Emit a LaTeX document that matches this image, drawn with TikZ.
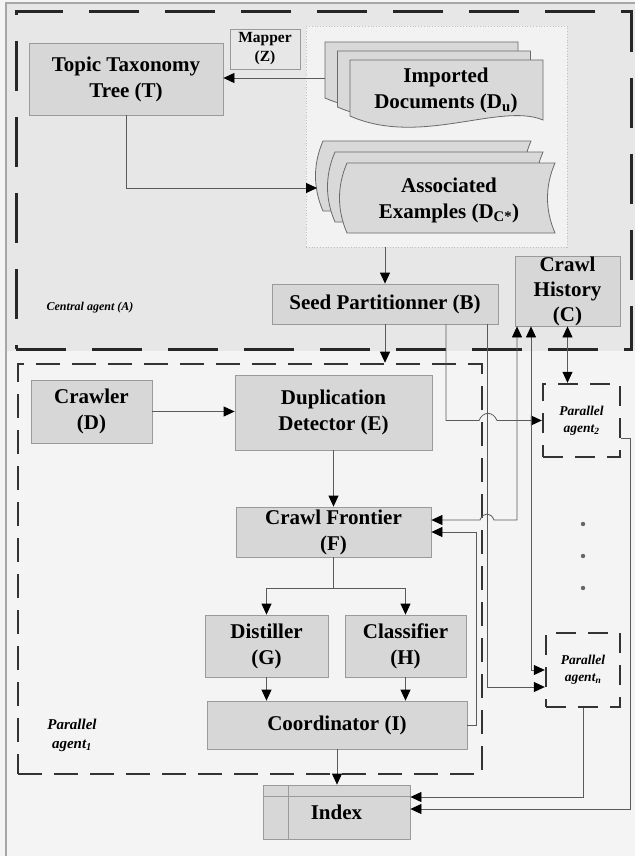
\documentclass[tikz,border=0pt]{standalone}
\usepackage{fontspec}
\setmainfont{Liberation Serif}
\usetikzlibrary{arrows.meta}
\definecolor{pagebg}{HTML}{F4F4F4}
\definecolor{topbg}{HTML}{E7E7E7}
\definecolor{boxfill}{HTML}{D7D7D7}
\definecolor{boxline}{HTML}{9A9A9A}
\definecolor{docfill}{HTML}{D9D9D9}
\definecolor{docline}{HTML}{6A6A6A}
\definecolor{dotfill}{HTML}{F2F2F2}
\definecolor{wire}{HTML}{5A5A5A}
\begin{document}
\begin{tikzpicture}[x=1pt,y=-1pt,
  box/.style={draw=boxline,fill=boxfill,line width=0.8pt,align=center,inner sep=0pt,
    font=\fontsize{21}{26}\selectfont\bfseries},
  smallbox/.style={draw=boxline,fill=boxfill!60!white,line width=0.8pt,align=center,inner sep=0pt,
    font=\fontsize{15.5}{19}\selectfont\bfseries},
  dotbox/.style={draw=boxline!60,fill=dotfill,dotted,line width=0.8pt,inner sep=0pt},
  bigdash/.style={draw=black!85,line width=3pt,dash pattern=on 50pt off 26pt,inner sep=0pt},
  meddash/.style={draw=black!80,line width=2.6pt,dash pattern=on 24pt off 12pt,inner sep=0pt},
  agentbox/.style={draw=black!80,line width=2.4pt,dash pattern=on 20pt off 12pt,inner sep=0pt,
    align=center,font=\fontsize{13.5}{17}\selectfont\bfseries\itshape},
  lab/.style={align=center,inner sep=0pt},
  conn/.style={draw=wire,line width=0.8pt},
  tip/.tip={Triangle[length=11pt,width=10pt,black]},
  arr/.style={conn,-tip},
  darr/.style={conn,tip-tip},
  doc/.style={draw=docline,fill=docfill,line width=0.8pt},
  doctext/.style={align=center,inner sep=0pt,font=\fontsize{21}{26}\selectfont\bfseries}
]
\useasboundingbox (0,0) rectangle (635,856);
\fill[pagebg] (0,0) rectangle (635,856);
\fill[topbg] (6,3) rectangle (635,351);
\draw[black!35,line width=1.2pt] (6,856) -- (6,3) -- (635,3);

% containers
\node[bigdash,minimum width=615pt,minimum height=337pt] (A) at (323.5,180.5) {};
\node[meddash,minimum width=464pt,minimum height=410pt] (P1) at (250,569) {};
\node[dotbox,minimum width=261pt,minimum height=221pt] (DB) at (436.5,136.5) {};

% imported documents
\foreach \s in {2,1,0}{
  \begin{scope}[shift={(-12.5*\s,-9*\s)}]
    \draw[doc] (350,60) -- (543,60) -- (543,120) .. controls (500,102) and (420,147) .. (350,116) -- cycle;
  \end{scope}
}
\node[doctext] (Du) at (446,90) {Imported\\Documents (D\textsubscript{u})};

% associated examples
\foreach \s in {2,1,0}{
  \begin{scope}[shift={(-12*\s,-11*\s)}]
    \draw[doc] (347,163) -- (555,163) .. controls (545,186) and (545,210) .. (555,233) -- (347,233)
      .. controls (337,210) and (337,186) .. (347,163) -- cycle;
  \end{scope}
}
\node[doctext] (Dc) at (449,200) {Associated\\Examples (D\textsubscript{C*})};

% boxes
\node[box,minimum width=194pt,minimum height=72pt] (T) at (126,79) {Topic Taxonomy\\Tree (T)};
\node[smallbox,minimum width=70pt,minimum height=40pt] (Z) at (265,49) {Mapper\\(Z)};
\node[box,minimum width=226pt,minimum height=40pt] (B) at (385,304) {Seed Partitionner (B)};
\node[box,minimum width=105pt,minimum height=70pt,font=\fontsize{21}{25}\selectfont\bfseries] (C) at (567.5,291) {Crawl\\History\\(C)};
\node[box,minimum width=121pt,minimum height=63pt] (D) at (91.5,411.5) {Crawler\\(D)};
\node[box,minimum width=197pt,minimum height=75pt] (E) at (333.5,412.5) {Duplication\\Detector (E)};
\node[box,minimum width=195pt,minimum height=50pt] (F) at (333.5,532) {Crawl Frontier\\(F)};
\node[box,minimum width=123pt,minimum height=62pt] (G) at (266.5,646) {Distiller\\(G)};
\node[box,minimum width=121pt,minimum height=62pt] (H) at (405.5,646) {Classifier\\(H)};
\node[box,minimum width=260pt,minimum height=48pt] (I) at (337,725) {Coordinator (I)};
\node[box,minimum width=147pt,minimum height=54pt] (Index) at (336.5,812) {Index};
\draw[boxline,line width=0.8pt] ([xshift=26pt]Index.north west) -- ([xshift=26pt]Index.south west);
\draw[boxline,line width=0.8pt] ([yshift=-12pt]Index.north west) -- ([yshift=-12pt]Index.north east);

\node[agentbox,minimum width=77pt,minimum height=73pt] (P2) at (581.5,420.5) {Parallel\\agent\textsubscript{2}};
\node[agentbox,minimum width=74pt,minimum height=74pt] (Pn) at (583,670) {Parallel\\agent\textsubscript{n}};

% labels
\node[lab,font=\fontsize{12}{14}\selectfont\bfseries\itshape] (Alab) at (90,308) {Central agent (A)};
\node[lab,font=\fontsize{15}{19}\selectfont\bfseries\itshape] (P1lab) at (72,735) {Parallel\\agent\textsubscript{1}};

% dots
\fill[black!60] (583,524) circle[radius=2.2pt];
\fill[black!60] (583,556) circle[radius=2.2pt];
\fill[black!60] (583,588) circle[radius=2.2pt];

% connectors (central agent)
\coordinate (duL) at (325,78);
\coordinate (dcL) at (317,188);
\draw[arr] (duL) -- (T.east |- duL);
\draw[arr] (T.south) |- (dcL);
\draw[arr] (B.north |- DB.south) -- (B.north);
\draw[arr] (B.south) -- (B.south |- P1.north);

% connectors (parallel agent 1)
\draw[arr] (D.east) -- (D.east -| E.west);
\draw[arr] (E.south) -- (E.south |- F.north);
\coordinate (fs) at (333.5,588);
\draw[conn] (F.south) -- (fs);
\draw[arr] (fs) -| (G.north);
\draw[arr] (fs) -| (H.north);
\draw[arr] (G.south) -- (G.south |- I.north);
\draw[arr] (H.south) -- (H.south |- I.north);
\draw[arr] (I.south) -- (I.south |- Index.north);

% right-hand wiring
\draw[arr] ([xshift=61pt]B.south) -- (446,420.5) -- (479,420.5)
   .. controls (483,411) and (493,411) .. (497,420.5) -- (P2.west);
\draw[darr] ([yshift=12pt]F.east) -- (480,520) .. controls (483,512) and (491,512) .. (494,520)
   -- (517,520) -- ([xshift=-50.5pt]C.south);
\draw[darr] ([xshift=-36.5pt]C.south) -- (531,670) -- (Pn.west);
\draw[darr] (C.south) -- (C.south |- P2.north);
\draw[arr] ([xshift=102pt]B.south) -- (487,687) -- ([yshift=-17pt]Pn.west);
\draw[arr] (I.east) -- (476,725) -- (476,532) -- (F.east);
\draw[arr] ([yshift=-17.5pt]P2.east) -- (630,438) -- (630,809) -- ([yshift=3pt]Index.east);
\draw[arr] (Pn.south) -- (583,797) -- ([yshift=15pt]Index.east);
\end{tikzpicture}
\end{document}
